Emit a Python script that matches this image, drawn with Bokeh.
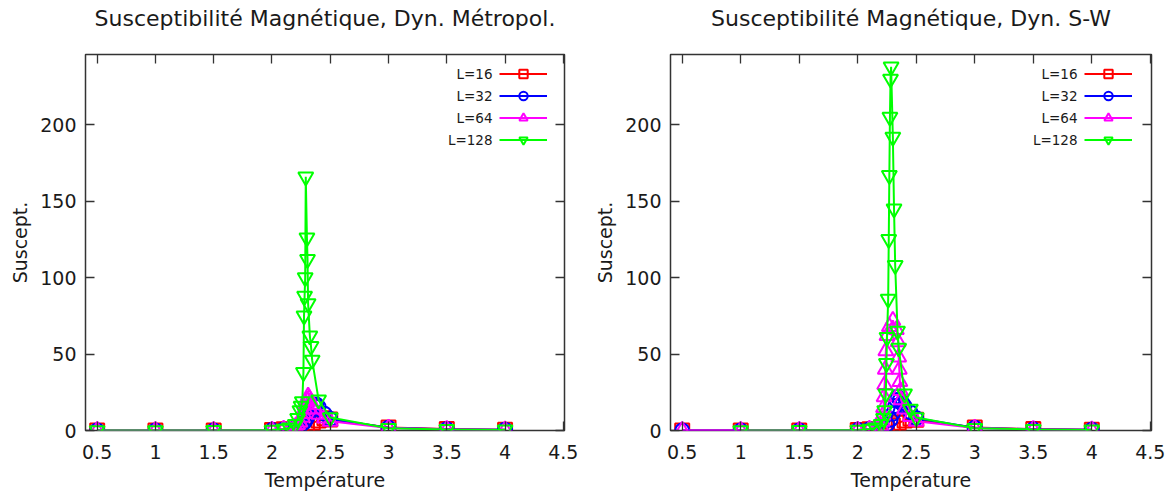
from bokeh.plotting import figure
from bokeh.models import Range1d, LinearAxis, FixedTicker, Legend, LegendItem, Label
from bokeh.layouts import row
from bokeh.embed import file_html
from bokeh.resources import INLINE

# ---------------- data : Metropolis dynamics ----------------
T_metro_16 = [0.5, 1, 1.5, 2, 2.1, 2.2, 2.25, 2.3, 2.35, 2.4, 2.45, 2.5, 3, 3.5, 4]
chi_metro_16 = [0.02, 0.04, 0.08, 0.4, 0.8, 1.4, 2.2, 3.4, 5.0, 6.6, 8.0, 7.2, 2.0, 0.9, 0.5]

T_metro_32 = [0.5, 1, 1.5, 2, 2.1, 2.2, 2.25, 2.28, 2.3, 2.32, 2.34, 2.36, 2.38, 2.4, 2.45, 2.5, 3, 3.5, 4]
chi_metro_32 = [0.01, 0.02, 0.05, 0.3, 0.7, 1.8, 3.5, 5.5, 8, 11, 14, 16.5, 17, 15.5, 11, 7.5, 1.8, 0.8, 0.5]

T_metro_64 = [0.5, 1, 1.5, 2, 2.1, 2.15, 2.2, 2.22, 2.24, 2.26, 2.27, 2.28, 2.29, 2.30, 2.31,
              2.32, 2.33, 2.34, 2.36, 2.4, 2.45, 2.5, 3, 3.5, 4]
chi_metro_64 = [0.01, 0.02, 0.04, 0.3, 0.8, 1.3, 2.5, 3.8, 5.5, 8.5, 11, 14, 17, 20, 22.5,
                21, 19, 17, 14, 10.5, 8, 6, 1.6, 0.7, 0.4]

T_metro_128 = [0.5, 1, 1.5, 2, 2.1, 2.15, 2.2, 2.22, 2.24, 2.25, 2.26, 2.27, 2.275, 2.28, 2.285,
               2.29, 2.30, 2.305, 2.31, 2.325, 2.335, 2.345, 2.4, 2.5, 3, 3.5, 4]
chi_metro_128 = [0.01, 0.02, 0.04, 0.3, 0.9, 1.8, 4, 8, 13, 16, 19, 38, 75, 88, 100,
                 166, 126, 112, 83, 62, 55, 46, 20, 8.5, 1.5, 0.7, 0.4]

# ---------------- data : Swendsen-Wang dynamics ----------------
T_sw_16 = [0.5, 1, 1.5, 2, 2.1, 2.2, 2.25, 2.3, 2.35, 2.4, 2.45, 2.5, 3, 3.5, 4]
chi_sw_16 = [0.02, 0.04, 0.08, 0.4, 0.8, 1.4, 2.2, 3.4, 5.0, 6.6, 7.8, 7.0, 2.0, 0.9, 0.5]

T_sw_32 = [0.5, 1, 1.5, 2, 2.1, 2.2, 2.25, 2.28, 2.3, 2.32, 2.33, 2.34, 2.36, 2.38, 2.4, 2.45, 2.5, 3, 3.5, 4]
chi_sw_32 = [0.01, 0.02, 0.05, 0.3, 0.8, 2, 4, 7, 11, 16, 20, 22, 20, 18, 16, 12, 8, 1.8, 0.8, 0.5]

T_sw_64 = [0.5, 1, 1.5, 2, 2.1, 2.15, 2.2, 2.21, 2.215, 2.22, 2.225, 2.23, 2.235, 2.24, 2.25,
           2.27, 2.30, 2.33, 2.345, 2.35, 2.355, 2.36, 2.365, 2.37, 2.4, 2.45, 2.5, 3, 3.5, 4]
chi_sw_64 = [0.01, 0.02, 0.04, 0.3, 0.8, 1.5, 3, 6, 10, 15, 22, 30, 40, 52, 62,
             68, 72, 66, 58, 48, 40, 32, 26, 20, 14, 9, 6, 1.6, 0.7, 0.4]

T_sw_128 = [1.0, 1.5, 2.0, 2.1, 2.15, 2.2, 2.22, 2.23, 2.24, 2.245, 2.25, 2.26, 2.265, 2.27,
            2.275, 2.28, 2.285, 2.30, 2.31, 2.32, 2.34, 2.35, 2.4, 2.45, 2.5, 3.0, 3.5, 4.0]
chi_sw_128 = [0.02, 0.04, 0.3, 0.9, 1.8, 4, 8, 13, 24, 44, 61, 86, 125, 167,
              205, 230, 238, 192, 145, 108, 65, 54, 24, 14, 8.5, 1.5, 0.7, 0.4]

labels = ["L=16", "L=32", "L=64", "L=128"]
x_ticks = [0.5, 1, 1.5, 2, 2.5, 3, 3.5, 4, 4.5]
y_ticks = [0, 50, 100, 150, 200]
titles = ["Susceptibilité Magnétique, Dyn. Métropol.", "Susceptibilité Magnétique, Dyn. S-W"]

colors = ["#ff0000", "#0000ff", "#ff00ff", "#00ff00"]
markers = ["square", "circle", "triangle", "inverted_triangle"]
msizes = [14, 14, 15, 15]
FONT = "DejaVu Sans"
TXT = "#1a1a1a"
FRAME = "#333333"
ROW = 22  # legend row pitch (px)


def mirror_axis(ticks, label=None):
    ax = LinearAxis(ticker=FixedTicker(ticks=ticks), axis_line_color=None, major_tick_in=9,
                    major_tick_out=0, major_tick_line_color=FRAME, major_tick_line_width=1.3,
                    minor_tick_line_color=None, major_label_text_color=None,
                    major_label_text_font_size="0px", major_label_standoff=0)
    if label is not None:
        # the chart title is carried by the top (mirror) axis
        ax.axis_label = label
        ax.axis_label_text_font = FONT
        ax.axis_label_text_font_size = "22px"
        ax.axis_label_text_font_style = "normal"
        ax.axis_label_text_color = TXT
        ax.axis_label_standoff = 24
    return ax


def make_plot(title, series, width, bl, br):
    p = figure(width=width, height=493, x_range=Range1d(0.4, 4.51), y_range=Range1d(0, 246),
               output_backend="svg", toolbar_location=None, title_location=None,
               min_border_left=bl, min_border_right=br, min_border_top=54, min_border_bottom=63,
               x_axis_label="Température", y_axis_label="Suscept.")
    p.grid.visible = False
    p.outline_line_color = FRAME
    p.outline_line_width = 1.5
    p.background_fill_color = "white"

    for ax, ticks in ((p.xaxis[0], x_ticks), (p.yaxis[0], y_ticks)):
        ax.ticker = FixedTicker(ticks=ticks)
        ax.axis_line_color = None
        ax.major_tick_in = 9
        ax.major_tick_out = 0
        ax.major_tick_line_color = FRAME
        ax.major_tick_line_width = 1.3
        ax.minor_tick_line_color = None
        ax.major_label_text_font = FONT
        ax.major_label_text_font_size = "19px"
        ax.major_label_text_color = TXT
        ax.axis_label_text_font = FONT
        ax.axis_label_text_font_size = "19px"
        ax.axis_label_text_font_style = "normal"
        ax.axis_label_text_color = TXT
    p.xaxis[0].major_label_standoff = 14
    p.xaxis[0].axis_label_standoff = 7
    p.yaxis[0].major_label_standoff = 9
    p.yaxis[0].axis_label_standoff = 6

    p.add_layout(mirror_axis(x_ticks, title), "above")
    p.add_layout(mirror_axis(y_ticks), "right")

    items = []
    for (T, chi), lab, col, mk, ms in zip(series, labels, colors, markers, msizes):
        lr = p.line(T, chi, line_color=col, line_width=2)
        sr = p.scatter(T, chi, marker=mk, size=ms, line_color=col, line_width=2, fill_color=None)
        items.append(LegendItem(label=lab, renderers=[lr, sr]))
    # gnuplot-style key: samples drawn by the legend, texts right-aligned on their left
    leg = Legend(items=items, location=(414, 280), border_line_color=None,
                 background_fill_alpha=0, label_text_color=None, label_text_font_size="1px",
                 label_width=0, label_standoff=0,
                 glyph_width=48, glyph_height=21, label_height=21,
                 spacing=ROW - 21, padding=4, margin=0)
    p.add_layout(leg)
    for i, lab in enumerate(labels):
        p.add_layout(Label(x=407, y=357 - ROW * i, x_units="screen", y_units="screen", text=lab,
                           text_align="right", text_baseline="middle", text_font=FONT,
                           text_font_size="13.5px", text_color=TXT))
    return p


p1 = make_plot(titles[0], [(T_metro_16, chi_metro_16), (T_metro_32, chi_metro_32),
                           (T_metro_64, chi_metro_64), (T_metro_128, chi_metro_128)],
               587, 85, 23)
p2 = make_plot(titles[1], [(T_sw_16, chi_sw_16), (T_sw_32, chi_sw_32),
                           (T_sw_64, chi_sw_64), (T_sw_128, chi_sw_128)],
               585, 83, 21)

layout = row(p1, p2)
open("out.html", "w").write(file_html(layout, INLINE))
